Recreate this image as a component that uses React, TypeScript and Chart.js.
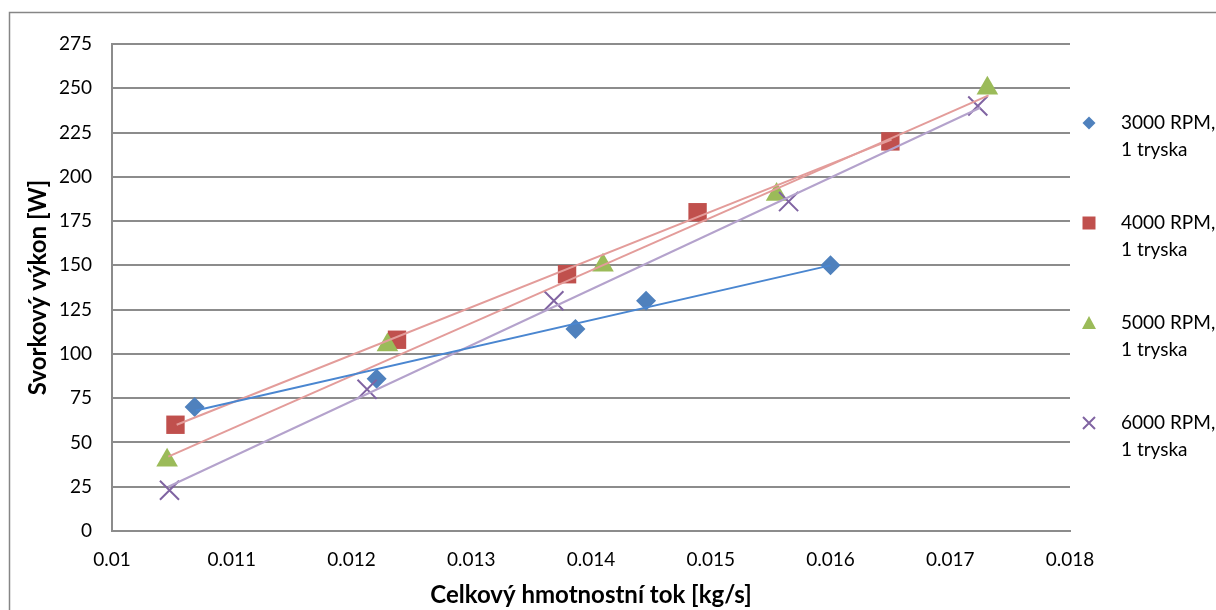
import React, { useEffect, useRef } from 'react';
import { Chart, registerables } from 'chart.js';

Chart.register(...registerables);

// ---- data ----
const xTickLabels = ['0.01', '0.011', '0.012', '0.013', '0.014', '0.015', '0.016', '0.017', '0.018'];
const yTickLabels = ['0', '25', '50', '75', '100', '125', '150', '175', '200', '225', '250', '275'];

const seriesNames = ['3000 RPM,', '4000 RPM,', '5000 RPM,', '6000 RPM,'];
const seriesSub = ['1 tryska', '1 tryska', '1 tryska', '1 tryska'];

const x3000 = [0.01069, 0.01221, 0.01387, 0.01446, 0.016];
const y3000 = [70, 86, 114, 130, 150];
const x4000 = [0.01053, 0.01238, 0.0138, 0.01489, 0.0165];
const y4000 = [60, 108, 145, 180, 220];
const x5000 = [0.01046, 0.0123, 0.0141, 0.01555, 0.01731];
const y5000 = [40, 105, 150, 190, 250];
const x6000 = [0.01048, 0.01213, 0.01369, 0.01565, 0.01723];
const y6000 = [23, 80, 130, 186, 240];

// trendline end points
const trend3000X = [0.0107, 0.016];
const trend3000Y = [68, 150];
const trend4000X = [0.01054, 0.01651];
const trend4000Y = [60, 221];
const trend5000X = [0.01047, 0.01732];
const trend5000Y = [42, 246];
const trend6000X = [0.01047, 0.01725];
const trend6000Y = [25, 239];

const colors = ['#4F81BD', '#C0504D', '#9BBB59', '#8064A2'];
const trendColors = ['#4A86D0', '#E39C9A', '#E39C9A', '#B4A2CC'];

const FONT = 'Lato, "Open Sans", "Liberation Sans", sans-serif';

const pts = (xs: number[], ys: number[]) => xs.map((x, i) => ({ x, y: ys[i] }));

function drawLegendMarker(ctx: CanvasRenderingContext2D, i: number, cx: number, cy: number) {
  ctx.save();
  ctx.fillStyle = colors[i];
  ctx.strokeStyle = colors[i];
  ctx.beginPath();
  if (i === 0) {
    const r = 6.5;
    ctx.moveTo(cx, cy - r);
    ctx.lineTo(cx + r, cy);
    ctx.lineTo(cx, cy + r);
    ctx.lineTo(cx - r, cy);
    ctx.closePath();
    ctx.fill();
  } else if (i === 1) {
    ctx.rect(cx - 6.5, cy - 6.5, 13, 13);
    ctx.fill();
  } else if (i === 2) {
    ctx.moveTo(cx, cy - 7);
    ctx.lineTo(cx + 7, cy + 6);
    ctx.lineTo(cx - 7, cy + 6);
    ctx.closePath();
    ctx.fill();
  } else {
    const r = 6;
    ctx.lineWidth = 2;
    ctx.moveTo(cx - r, cy - r);
    ctx.lineTo(cx + r, cy + r);
    ctx.moveTo(cx + r, cy - r);
    ctx.lineTo(cx - r, cy + r);
    ctx.stroke();
  }
  ctx.restore();
}

const framePlugin = {
  id: 'frameAndLegend',
  beforeDraw(chart: any) {
    const ctx = chart.ctx as CanvasRenderingContext2D;
    ctx.save();
    ctx.fillStyle = '#ffffff';
    ctx.fillRect(0, 0, chart.width, chart.height);
    ctx.strokeStyle = '#868686';
    ctx.lineWidth = 1.5;
    ctx.strokeRect(9.5, 12.5, chart.width + 200, chart.height + 200);
    ctx.restore();
  },
  afterDraw(chart: any) {
    const ctx = chart.ctx as CanvasRenderingContext2D;
    ctx.save();
    ctx.font = `19px ${FONT}`;
    ctx.fillStyle = '#000';
    ctx.textBaseline = 'middle';
    ctx.textAlign = 'left';
    seriesNames.forEach((name, i) => {
      const y = 123 + i * 100;
      drawLegendMarker(ctx, i, 1089, y);
      ctx.fillText(name, 1121, y);
      ctx.fillText(seriesSub[i], 1121, y + 27);
    });
    ctx.restore();
  },
};

export default function App() {
  const ref = useRef<HTMLCanvasElement | null>(null);

  useEffect(() => {
    if (!ref.current) return;
    const pointSets = [
      { data: pts(x3000, y3000), style: 'rectRot', r: 10 },
      { data: pts(x4000, y4000), style: 'rect', r: 13 },
      { data: pts(x5000, y5000), style: 'triangle', r: 12.5 },
      { data: pts(x6000, y6000), style: 'crossRot', r: 13.5 },
    ];
    const trendSets = [
      pts(trend3000X, trend3000Y),
      pts(trend4000X, trend4000Y),
      pts(trend5000X, trend5000Y),
      pts(trend6000X, trend6000Y),
    ];
    const datasets: any[] = [];
    pointSets.forEach((s, i) => {
      datasets.push({
        label: seriesNames[i] + ' ' + seriesSub[i],
        data: s.data,
        showLine: false,
        pointStyle: s.style,
        pointRadius: s.r,
        pointHoverRadius: s.r,
        pointBackgroundColor: colors[i],
        pointBorderColor: colors[i],
        pointBorderWidth: i === 3 ? 2 : 0,
        backgroundColor: colors[i],
        borderColor: colors[i],
        order: 2 + (3 - i),
      });
    });
    trendSets.forEach((d, i) => {
      datasets.push({
        label: 'trend ' + i,
        data: d,
        showLine: true,
        fill: false,
        pointRadius: 0,
        pointHoverRadius: 0,
        borderColor: trendColors[i],
        borderWidth: 2,
        order: 1,
      });
    });

    const chart = new Chart(ref.current, {
      type: 'scatter',
      data: { datasets },
      plugins: [framePlugin],
      options: {
        responsive: false,
        animation: false,
        events: [],
        layout: { padding: { top: 44, right: 146, left: 0, bottom: 0 } },
        plugins: {
          legend: { display: false },
          tooltip: { enabled: false },
        },
        scales: {
          x: {
            type: 'linear',
            min: 0.01,
            max: 0.018,
            afterFit: (scale: any) => {
              scale.height = 79;
            },
            ticks: {
              stepSize: 0.001,
              color: '#000',
              padding: 17,
              font: { family: FONT, size: 19 },
              callback: (_v: any, idx: number) => xTickLabels[idx],
            },
            grid: { color: 'rgba(0,0,0,0)', drawTicks: false },
            border: { display: true, color: '#8c8c8c', width: 2 },
            title: {
              display: true,
              text: 'Celkový hmotnostní tok [kg/s]',
              color: '#000',
              font: { family: FONT, size: 24, weight: 'bold' },
              padding: { top: 0, bottom: 0 },
            },
          },
          y: {
            type: 'linear',
            min: 0,
            max: 275,
            afterFit: (scale: any) => {
              scale.width = 112;
            },
            ticks: {
              stepSize: 25,
              color: '#000',
              padding: 20,
              font: { family: FONT, size: 19 },
              callback: (_v: any, idx: number) => yTickLabels[idx],
            },
            grid: { color: '#8c8c8c', lineWidth: 2, drawTicks: false },
            border: { display: true, color: '#8c8c8c', width: 2 },
            title: {
              display: true,
              text: 'Svorkový výkon [W]',
              color: '#000',
              font: { family: FONT, size: 24, weight: 'bold' },
              padding: { top: 24, bottom: 0 },
            },
          },
        },
      } as any,
    });
    return () => chart.destroy();
  }, []);

  return (
    <div style={{ position: 'fixed', left: 0, top: 0, width: 1216, height: 610, background: '#fff' }}>
      <canvas ref={ref} width={1216} height={610} style={{ display: 'block' }} />
    </div>
  );
}
